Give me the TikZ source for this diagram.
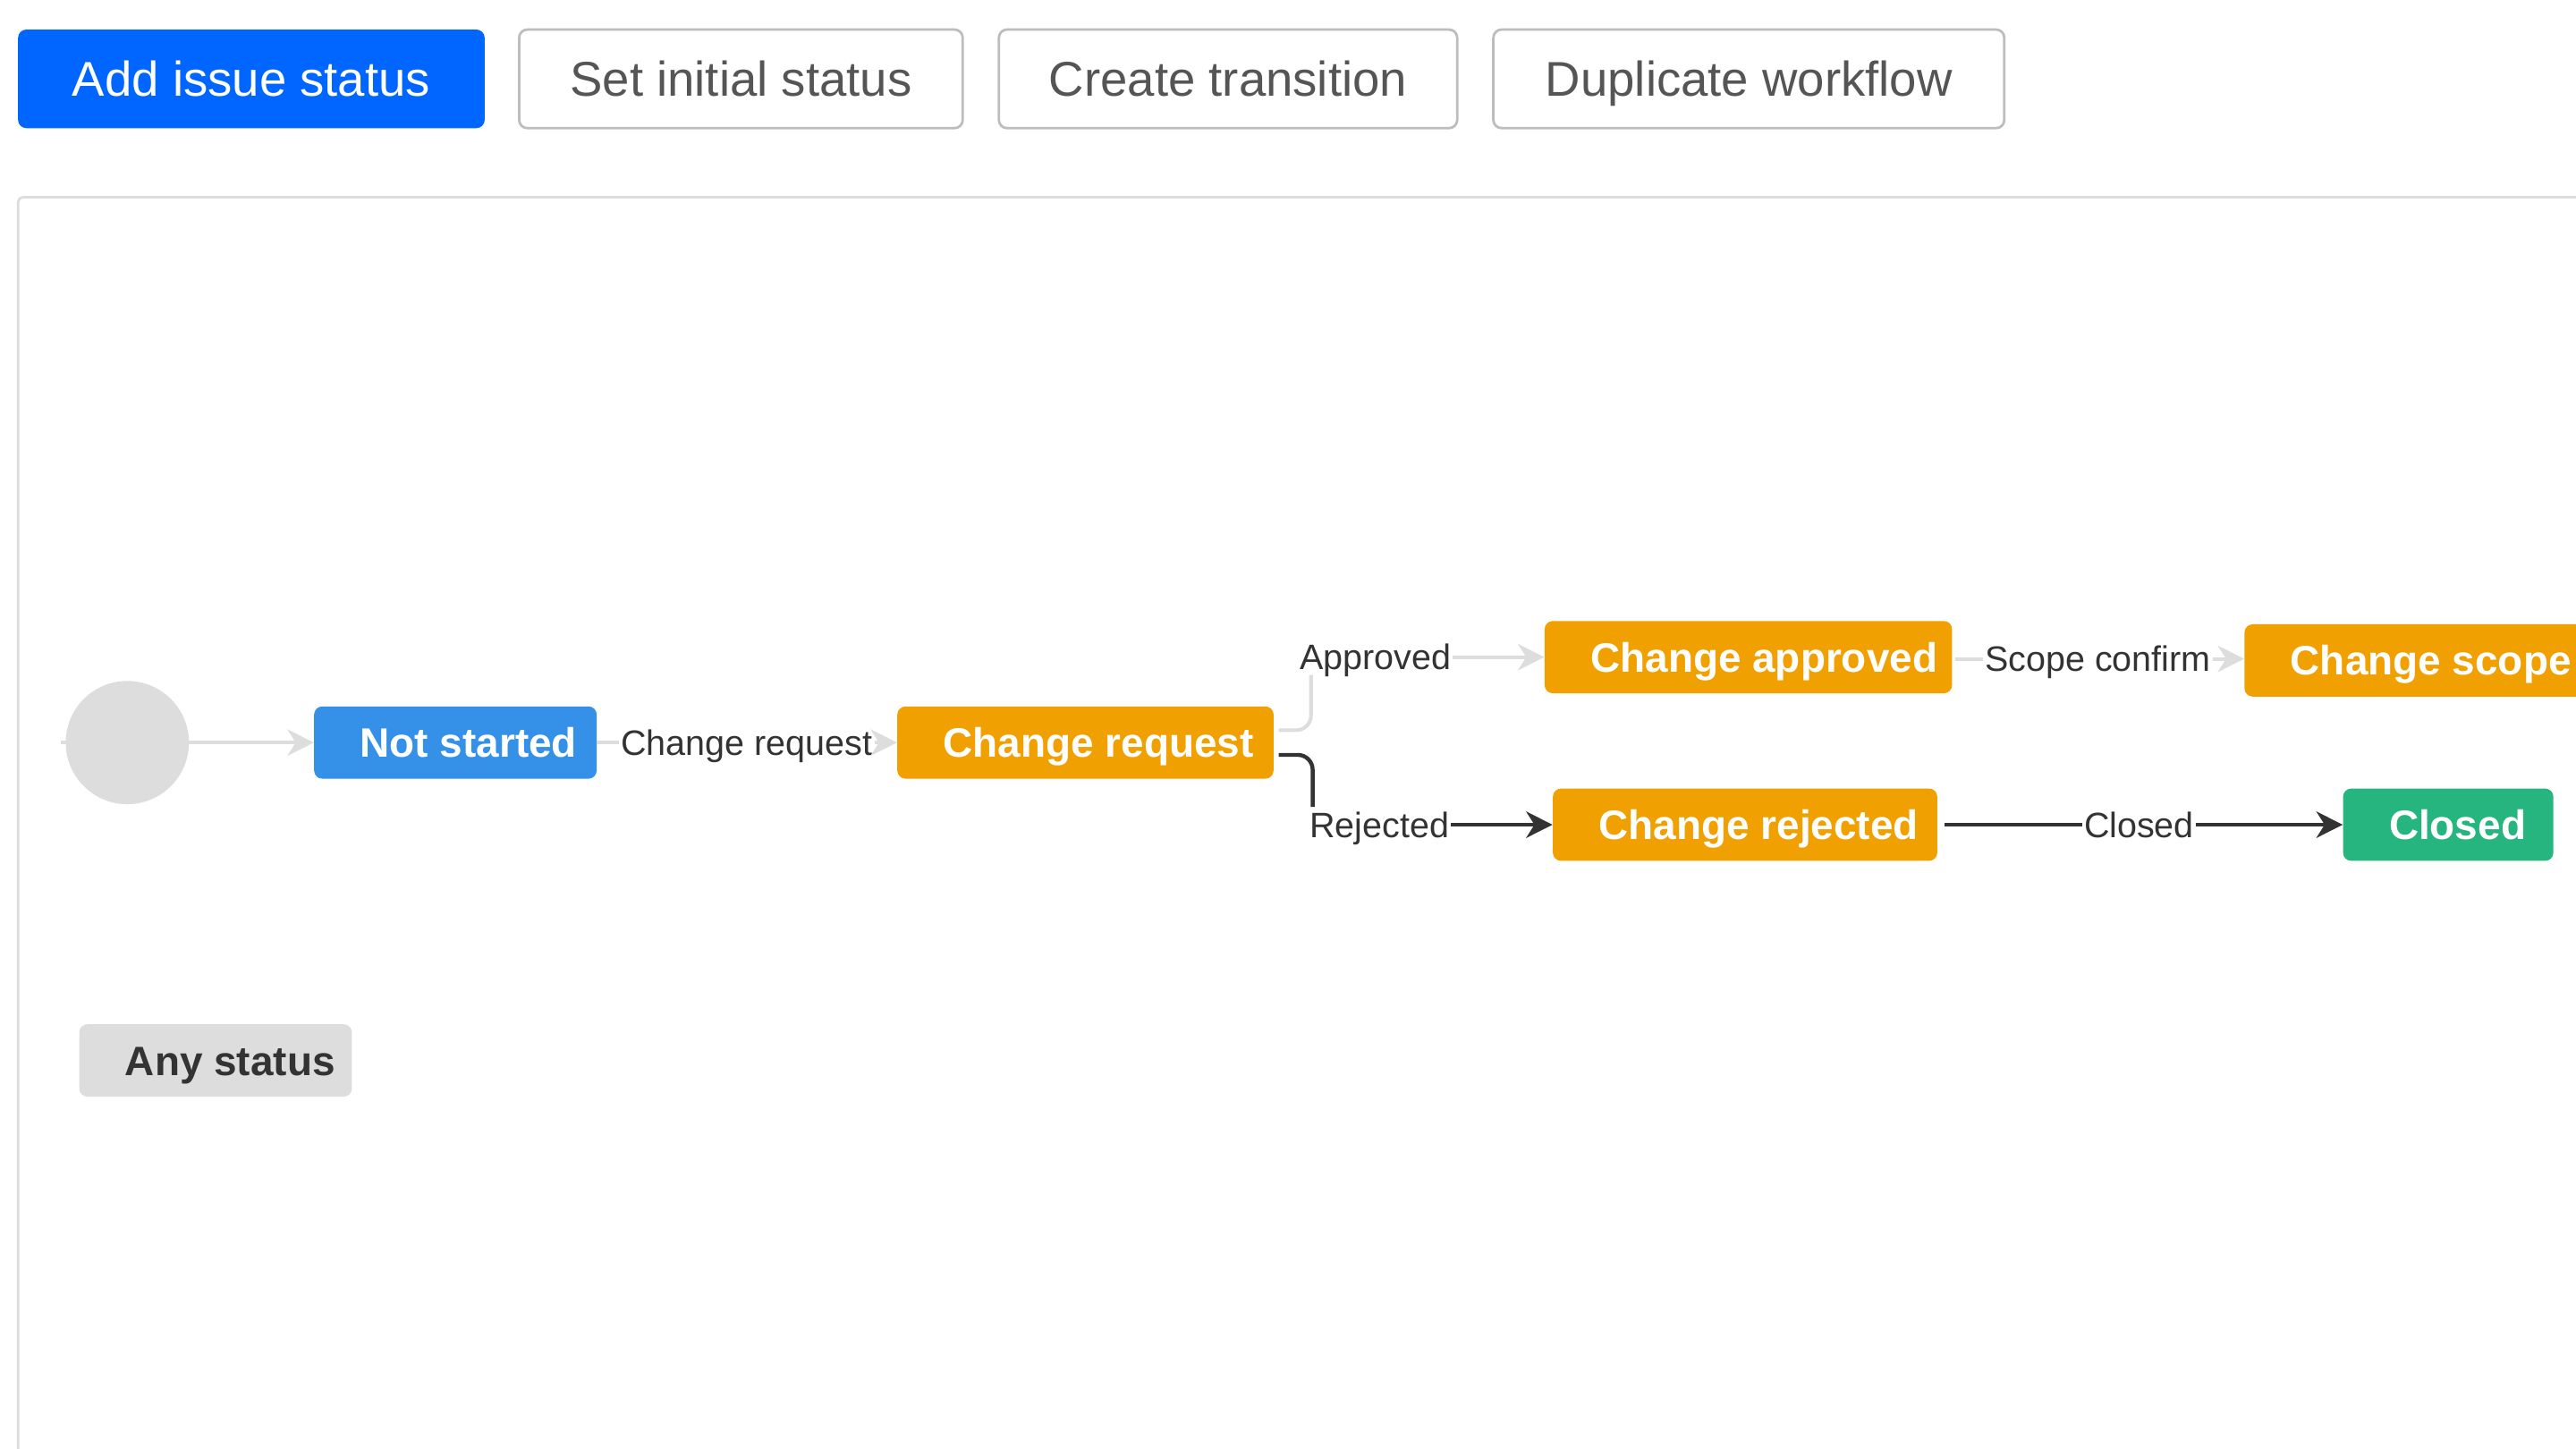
\documentclass[tikz,border=0pt]{standalone}
\usepackage{fontspec}
\setmainfont{Liberation Sans}
\usetikzlibrary{arrows.meta,backgrounds}
\definecolor{btnblue}{HTML}{0066FF}
\definecolor{btnborder}{HTML}{BDBDBD}
\definecolor{btntext}{HTML}{555555}
\definecolor{framegray}{HTML}{DDDDDD}
\definecolor{startgray}{HTML}{DDDDDD}
\definecolor{edgegray}{HTML}{DDDDDD}
\definecolor{edgedark}{HTML}{333333}
\definecolor{lbltext}{HTML}{333333}
\definecolor{stblue}{HTML}{3590E8}
\definecolor{storange}{HTML}{F0A000}
\definecolor{stgreen}{HTML}{26B47F}
\definecolor{stgray}{HTML}{DDDDDD}
\newcommand\sttext[2]{\hspace*{28pt}\makebox[#1][l]{#2}}
\tikzset{
  btn/.style={rounded corners=5pt, minimum height=60pt, inner xsep=0pt, inner ysep=0pt,
    font=\fontsize{29.7}{32}\selectfont, text height=21.3pt, text depth=0pt},
  btnfill/.style={btn, fill=btnblue, text=white},
  btnline/.style={btn, draw=btnborder, line width=1.5pt, fill=white, text=btntext},
  status/.style={rounded corners=5pt, minimum height=44pt, inner xsep=0pt, inner ysep=0pt,
    anchor=west, font=\bfseries\fontsize{25}{28}\selectfont, text=white,
    text height=17.9pt, text depth=0pt},
  lbl/.style={fill=white, inner xsep=1pt, inner ysep=3pt, font=\fontsize{21.5}{24}\selectfont,
    text=lbltext, text height=15.4pt, text depth=0pt},
  gedge/.style={draw=edgegray, line width=2.2pt},
  dedge/.style={draw=edgedark, line width=2.4pt},
  garrow/.style={gedge, -{Stealth[length=16pt,width=16pt,inset=5pt,fill=edgegray]}},
  darrow/.style={dedge, -{Stealth[length=16pt,width=16pt,inset=5pt,fill=edgedark]}},
}
\begin{document}
\begin{tikzpicture}[x=1pt,y=-1pt]
\useasboundingbox (0,0) rectangle (1568,882);
\begin{scope}[on background layer]
  \fill[white] (0,0) rectangle (1568,882);
\end{scope}

% toolbar buttons
\node[btnfill, minimum width=284pt] (b1) at (153,48) {Add issue status};
\node[btnline, minimum width=270pt] (b2) at (451,48) {Set initial status};
\node[btnline, minimum width=279pt] (b3) at (747.5,48) {Create transition};
\node[btnline, minimum width=311pt] (b4) at (1064.5,48) {Duplicate workflow};

% canvas frame
\draw[framegray, line width=1.5pt, rounded corners=3pt] (11,895) -- (11,120) -- (1585,120);

% start
\node[circle, fill=startgray, minimum size=75pt, inner sep=0pt] (start) at (77.5,452) {};

% statuses
\node[status, fill=stblue] (ns) at (191,452) {\sttext{144pt}{Not started}};
\node[status, fill=storange] (cr) at (546,452) {\sttext{201pt}{Change request}};
\node[status, fill=storange] (ca) at (940,400) {\sttext{220pt}{Change approved}};
\node[status, fill=storange] (cs) at (1366,402) {\sttext{202pt}{Change scope}};
\node[status, fill=storange] (cre) at (945,502) {\sttext{206pt}{Change rejected}};
\node[status, fill=stgreen] (clo) at (1426,502) {\sttext{100pt}{Closed}};
\node[status, fill=stgray, text=lbltext] (any) at (48,645.5) {\sttext{138pt}{Any status}};

% labels
\node[lbl] (lcr) at (454.5,452) {Change request};
\node[lbl, anchor=west] (lapp) at (790,400) {Approved};
\node[lbl] (lsc) at (1277,401) {Scope confirm};
\node[lbl, anchor=west] (lrej) at (796,502) {Rejected};
\node[lbl] (lclo) at (1302,502) {Closed};

% connectors
\begin{scope}[on background layer]
  \draw[garrow] ([xshift=-3pt]start.west) -- (ns.west);
\end{scope}
\draw[gedge] (ns.east) -- (lcr.west);
\draw[garrow] (lcr.east) -- (cr.west);

\draw[gedge, rounded corners=9pt] ([shift={(3pt,7.5pt)}]cr.east) -| ([xshift=8pt]lapp.south west);
\draw[garrow] (lapp.east) -- (ca.west);

\draw[gedge] ([xshift=2pt,yshift=-1pt]ca.east) -- (lsc.west);
\draw[garrow] (lsc.east) -- (lsc.east -| cs.west);

\draw[dedge, rounded corners=9pt] ([shift={(3pt,-7.5pt)}]cr.east) -| ([xshift=3pt]lrej.north west);
\draw[darrow] (lrej.east) -- (cre.west);

\draw[dedge] ([xshift=4pt]cre.east) -- (lclo.west);
\draw[darrow] (lclo.east) -- (clo.west);
\end{tikzpicture}
\end{document}
